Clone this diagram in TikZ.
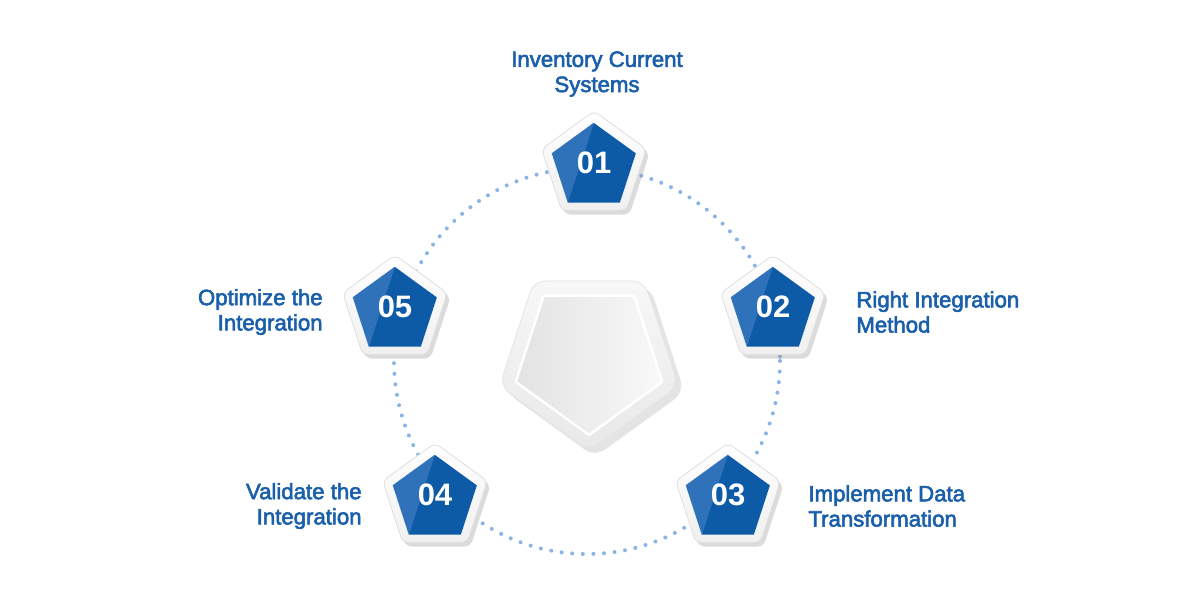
\documentclass[tikz,border=0pt]{standalone}
\usepackage{fontspec}
\setmainfont{Liberation Sans}
\newfontfamily\lblfont{Liberation Sans}[FakeBold=2.6]
\newfontfamily\numfont{Liberation Sans Bold}
\usetikzlibrary{shapes.geometric,shadows,calc}
\definecolor{txtblue}{HTML}{1A5FAB}
\definecolor{pentblue}{HTML}{0D5AA7}
\definecolor{facetblue}{HTML}{3577BE}
\definecolor{dotblue}{HTML}{8AB4E6}
\tikzset{
  outerpent/.style={regular polygon, regular polygon sides=5, inner sep=0pt,
    minimum size=55pt, rounded corners=3pt, draw=gray!25, line width=0.4pt,
    top color=white, bottom color=gray!12,
    drop shadow={shadow xshift=1.6pt, shadow yshift=-2pt, opacity=0.35, fill=gray!80}},
  bluepent/.style={regular polygon, regular polygon sides=5, inner sep=0pt,
    minimum size=44pt, fill=pentblue, draw=none},
  facet/.style={fill=facetblue, opacity=0.85},
  num/.style={text=white, font=\numfont\fontsize{15.5}{16}\selectfont, inner sep=0pt},
  lbl/.style={text=txtblue, font=\lblfont\fontsize{11.1}{12.6}\selectfont, inner sep=0pt},
  dots/.style={draw=dotblue, line width=2pt, line cap=round, dash pattern=on 0pt off 5.3pt},
}
\begin{document}
\begin{tikzpicture}[x=0.5pt,y=-0.5pt]
\useasboundingbox (0,0) rectangle (1200,600);
\fill[white] (0,0) rectangle (1200,600);
% dotted ring
\coordinate (c0) at (587,361);
\draw[dots] (c0) circle[radius=193];
% central pentagon
\node[regular polygon, regular polygon sides=5, shape border rotate=180, inner sep=0pt,
  minimum size=94pt, rounded corners=6pt, draw=gray!20, top color=gray!6, bottom color=gray!18,
  drop shadow={shadow xshift=3pt, shadow yshift=-3pt, opacity=0.3, fill=gray!70}] (cen) at (589,357) {};
\node[regular polygon, regular polygon sides=5, shape border rotate=180, inner sep=0pt,
  minimum size=77pt, draw=white, line width=1.2pt, left color=gray!22, right color=gray!5] (ceni) at (589,358) {};
% step pentagons
\foreach \n/\x/\y in {1/594/167, 2/773/311, 3/728/499, 4/435/499, 5/395/311}{
  \node[outerpent] (o\n) at (\x,\y-1) {};
  \node[bluepent] (b\n) at (\x,\y) {};
  \fill[facet] (b\n.corner 1) -- (b\n.corner 2) -- (b\n.corner 3) -- cycle;
  \node[num] (t\n) at ($(b\n.center)+(0,-4)$) {0\n};
}
% labels
\node[lbl, align=center] (l1) at (597,74) {Inventory Current\\Systems};
\node[lbl, align=left, anchor=west] (l2) at (856,312) {Right Integration\\Method};
\node[lbl, align=left, anchor=west] (l3) at (808,506) {Implement Data\\Transformation};
\node[lbl, align=right, anchor=east] (l4) at (362,506) {Validate the\\Integration};
\node[lbl, align=right, anchor=east] (l5) at (323,312) {Optimize the\\Integration};
\end{tikzpicture}
\end{document}
